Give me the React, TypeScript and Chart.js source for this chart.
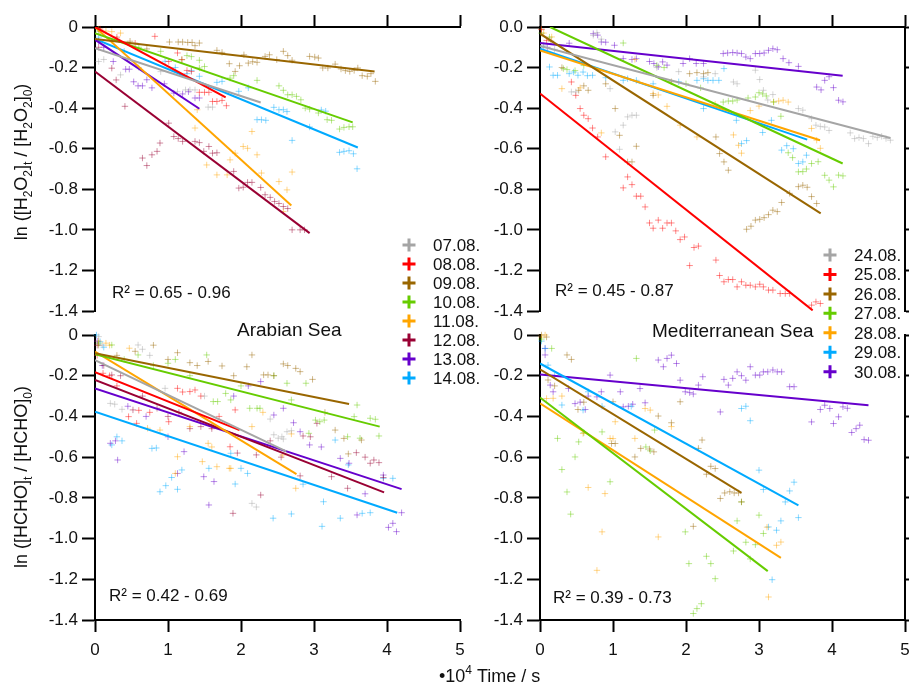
import React, { useEffect, useRef } from 'react';
import { Chart, registerables } from 'chart.js';

Chart.register(...registerables);

type Pt = [number, number];
type Fit = [number, number, number, number] | null;

const W = 909;
const H = 686;
const FONT = '"Liberation Sans", Arial, Helvetica, sans-serif';

// ---------- categories / tick labels ----------
const arabianDates = ['07.08.', '08.08.', '09.08.', '10.08.', '11.08.', '12.08.', '13.08.', '14.08.'];
const medDates = ['24.08.', '25.08.', '26.08.', '27.08.', '28.08.', '29.08.', '30.08.'];
const xTickValues = [0, 1, 2, 3, 4, 5];
const xTickLabels = ['0', '1', '2', '3', '4', '5'];
const yTickValues = [-1.4, -1.2, -1.0, -0.8, -0.6, -0.4, -0.2, 0];
const yLabelsA = ['-1.4', '-1.2', '-1.0', '-0.8', '-0.6', '-0.4', '-0.2', '0'];
const yLabelsB = ['-1.4', '-1.2', '-1.0', '-0.8', '-0.6', '-0.4', '-0.2', '0.0'];
const r2TopLeft = 'R² = 0.65 - 0.96';
const r2TopRight = 'R² = 0.45 - 0.87';
const r2BottomLeft = 'R² = 0.42 - 0.69';
const r2BottomRight = 'R² = 0.39 - 0.73';

// ---------- colours (styles) ----------
const arabianColors: [number, number, number][] = [
  [165, 165, 165], [255, 0, 0], [153, 102, 0], [102, 204, 0], [255, 165, 0], [153, 0, 51], [102, 0, 204], [0, 170, 255],
];
const medColors: [number, number, number][] = [
  [165, 165, 165], [255, 0, 0], [153, 102, 0], [102, 204, 0], [255, 165, 0], [0, 170, 255], [102, 0, 204],
];

// ---------- H2O2, Arabian Sea ----------
const h2o2_0708: Pt[] = [[0.05,-0.17],[0.12,-0.16],[0.35,-0.236],[0.6,-0.2],[0.9,-0.22],[1.13,-0.319],[1.24,-0.31],[1.3,-0.31],[1.37,-0.31],[1.55,-0.395],[1.61,-0.395]];
const h2o2_0808: Pt[] = [[0.07,-0.01],[0.3,-0.05],[0.55,-0.08],[0.82,-0.046],[1.01,-0.17],[1.13,-0.128],[1.19,-0.161],[1.26,-0.214],[1.32,-0.219],[1.43,-0.322],[1.5,-0.322],[1.56,-0.322],[1.61,-0.367],[1.67,-0.367],[1.74,-0.362],[1.8,-0.388]];
const h2o2_0908: Pt[] = [[0.07,-0.02],[0.48,-0.07],[0.71,-0.108],[1.02,-0.074],[1.14,-0.074],[1.2,-0.074],[1.27,-0.076],[1.33,-0.076],[1.43,-0.079],[1.37,-0.092],[1.67,-0.115],[1.74,-0.125],[1.84,-0.181],[1.92,-0.219],[1.98,-0.191],[2.04,-0.137],[2.1,-0.178],[2.16,-0.171],[2.22,-0.174],[2.33,-0.145],[2.39,-0.137],[2.49,-0.161],[2.58,-0.12],[2.64,-0.141],[2.7,-0.164],[2.94,-0.145],[3.01,-0.148],[3.06,-0.153],[3.12,-0.202],[3.19,-0.202],[3.29,-0.183],[3.37,-0.207],[3.43,-0.215],[3.49,-0.219],[3.55,-0.214],[3.6,-0.202],[3.66,-0.24],[3.73,-0.243],[3.78,-0.23],[3.84,-0.268]];
const h2o2_1008: Pt[] = [[0.05,-0.02],[0.3,-0.06],[0.6,-0.1],[0.9,-0.12],[1.19,-0.161],[1.26,-0.141],[1.32,-0.146],[1.43,-0.164],[1.43,-0.202],[1.5,-0.195],[1.85,-0.252],[1.9,-0.24],[2.22,-0.263],[2.52,-0.29],[2.58,-0.312],[2.64,-0.334],[2.7,-0.334],[2.76,-0.342],[2.82,-0.359],[2.88,-0.4],[2.94,-0.405],[3.06,-0.424],[3.18,-0.457],[3.24,-0.46],[3.35,-0.503],[3.41,-0.495],[3.48,-0.492],[3.53,-0.492]];
const h2o2_1108: Pt[] = [[0.05,-0.01],[0.15,-0.02],[0.23,-0.023],[0.35,-0.03],[1.37,-0.498],[1.4,-0.408],[1.53,-0.68],[1.67,-0.729],[1.81,-0.729],[1.85,-0.655],[1.92,-0.622],[2.03,-0.589],[2.09,-0.598],[2.15,-0.515],[2.22,-0.63],[2.28,-0.72],[2.52,-0.762],[2.58,-0.91],[2.63,-0.803],[2.7,-0.715]];
const h2o2_1208: Pt[] = [[0.05,-0.1],[0.23,-0.203],[0.29,-0.261],[0.41,-0.391],[0.65,-0.646],[0.71,-0.683],[0.78,-0.63],[0.85,-0.613],[0.89,-0.572],[1.01,-0.474],[1.08,-0.54],[1.14,-0.55],[1.2,-0.564],[1.37,-0.564],[1.43,-0.57],[1.49,-0.613],[1.56,-0.589],[1.61,-0.622],[1.67,-0.62],[1.9,-0.712],[1.97,-0.794],[2.03,-0.79],[2.09,-0.766],[2.15,-0.766],[2.27,-0.791],[2.33,-0.827],[2.4,-0.84],[2.46,-0.86],[2.52,-0.87],[2.58,-0.885],[2.64,-0.895],[2.7,-1.0],[2.81,-1.0],[2.87,-1.0]];
const h2o2_1308: Pt[] = [[0.05,-0.07],[0.12,-0.1],[0.25,-0.17],[0.42,-0.208],[0.47,-0.208],[0.53,-0.27],[0.59,-0.29],[0.65,-0.29],[0.71,-0.26],[0.78,-0.3],[0.95,-0.28],[1.08,-0.326],[1.2,-0.33],[1.28,-0.319],[1.37,-0.35],[1.43,-0.35]];
const h2o2_1408: Pt[] = [[0.05,-0.05],[0.4,-0.12],[0.96,-0.169],[1.1,-0.2],[1.26,-0.23],[1.32,-0.215],[1.43,-0.243],[1.67,-0.273],[1.74,-0.268],[1.97,-0.317],[2.1,-0.3],[2.22,-0.457],[2.28,-0.457],[2.34,-0.46],[2.45,-0.396],[2.52,-0.408],[2.58,-0.408],[2.63,-0.417],[2.7,-0.559],[2.94,-0.493],[3.1,-0.409],[3.16,-0.415],[3.35,-0.618],[3.41,-0.613],[3.48,-0.61],[3.54,-0.625],[3.59,-0.699]];
// fits: [x0, y0, x1, y1]
const fitH2o2Arabian: Fit[] = [
  [0, -0.104, 2.27, -0.372], [0, 0.0, 1.79, -0.347], [0, -0.059, 3.83, -0.219], [0, -0.03, 3.53, -0.47],
  [0, 0.0, 2.69, -0.88], [0, -0.219, 2.94, -1.016], [0, -0.0625, 1.43, -0.403], [0, -0.059, 3.6, -0.594],
];

// ---------- H2O2, Mediterranean Sea ----------
const h2o2_2408: Pt[] = [[0.05,-0.09],[0.2,-0.11],[0.43,-0.32],[0.49,-0.32],[0.73,-0.041],[0.78,-0.028],[0.84,-0.06],[0.96,-0.304],[1.03,-0.517],[1.09,-0.603],[1.14,-0.484],[1.2,-0.443],[1.26,-0.435],[1.32,-0.435],[1.6,-0.2],[1.9,-0.22],[2.24,-0.246],[2.4,-0.23],[2.65,-0.271],[2.7,-0.28],[2.95,-0.213],[3.01,-0.259],[3.06,-0.312],[3.12,-0.36],[3.19,-0.333],[3.54,-0.402],[3.6,-0.41],[3.72,-0.452],[3.78,-0.484],[3.84,-0.49],[3.9,-0.493],[3.96,-0.51],[4.25,-0.522],[4.31,-0.55],[4.37,-0.545],[4.43,-0.55],[4.5,-0.575],[4.56,-0.539],[4.62,-0.545],[4.68,-0.539],[4.74,-0.55],[4.8,-0.558]];
const h2o2_2508: Pt[] = [[0.02,-0.013],[0.09,-0.066],[0.43,-0.271],[0.49,-0.337],[0.55,-0.402],[0.6,-0.435],[0.66,-0.452],[0.72,-0.498],[0.79,-0.542],[0.9,-0.64],[1.14,-0.793],[1.2,-0.739],[1.26,-0.777],[1.32,-0.834],[1.38,-0.834],[1.44,-0.887],[1.5,-0.966],[1.55,-0.992],[1.62,-0.952],[1.68,-0.992],[1.74,-0.966],[1.8,-0.966],[1.86,-1.005],[1.92,-1.048],[1.98,-1.035],[2.05,-1.176],[2.11,-1.087],[2.17,-1.08],[2.41,-1.149],[2.46,-1.225],[2.52,-1.256],[2.58,-1.245],[2.64,-1.245],[2.7,-1.281],[2.76,-1.256],[2.82,-1.273],[2.88,-1.273],[2.95,-1.281],[3.01,-1.268],[3.06,-1.281],[3.13,-1.297],[3.19,-1.297],[3.29,-1.314],[3.36,-1.314],[3.42,-1.314],[3.72,-1.371],[3.78,-1.355],[3.84,-1.363]];
const h2o2_2608: Pt[] = [[0.02,-0.01],[0.15,-0.07],[0.3,-0.2],[0.53,-0.312],[0.6,-0.29],[0.66,-0.312],[0.9,-0.28],[1.03,-0.402],[1.09,-0.534],[1.2,-0.665],[1.26,-0.665],[1.32,-0.588],[1.55,-0.337],[1.8,-0.27],[2.05,-0.23],[2.15,-0.225],[2.24,-0.23],[2.3,-0.225],[2.41,-0.542],[2.46,-0.624],[2.52,-0.665],[2.58,-0.706],[2.83,-0.997],[2.89,-0.982],[2.95,-0.952],[3.01,-0.948],[3.07,-0.94],[3.13,-0.925],[3.19,-0.903],[3.25,-0.91],[3.31,-0.865],[3.42,-0.82],[3.54,-0.787],[3.6,-0.78],[3.66,-0.79],[3.72,-0.836],[3.79,-0.87]];
const h2o2_2708: Pt[] = [[0.02,-0.03],[0.13,-0.05],[0.32,-0.205],[0.37,-0.21],[0.48,-0.215],[0.6,-0.19],[1.14,-0.079],[1.6,-0.189],[1.7,-0.2],[2.0,-0.28],[2.2,-0.3],[2.51,-0.37],[2.58,-0.365],[2.64,-0.365],[2.7,-0.36],[2.85,-0.35],[2.95,-0.345],[3.0,-0.324],[3.05,-0.33],[3.1,-0.34],[3.2,-0.37],[3.3,-0.44],[3.4,-0.62],[3.46,-0.644],[3.54,-0.714],[3.6,-0.713],[3.65,-0.7],[3.72,-0.673],[3.81,-0.664],[3.9,-0.731],[3.96,-0.755],[4.02,-0.788],[4.09,-0.73],[4.15,-0.734]];
const h2o2_2808: Pt[] = [[0.05,-0.03],[0.16,-0.049],[0.3,-0.304],[0.55,-0.3],[0.84,-0.522],[1.3,-0.16],[1.55,-0.328],[1.62,-0.335],[1.74,-0.391],[1.92,-0.484],[2.15,-0.542],[2.4,-0.38],[2.65,-0.532],[2.72,-0.583],[2.76,-0.622],[2.88,-0.412],[3.0,-0.39],[3.2,-0.369],[3.27,-0.365],[3.33,-0.361],[3.4,-0.37],[3.72,-0.5],[3.79,-0.558],[3.84,-0.598]];
const h2o2_2908: Pt[] = [[0.05,-0.1],[0.13,-0.197],[0.18,-0.238],[0.24,-0.238],[0.4,-0.23],[0.46,-0.222],[0.52,-0.238],[0.59,-0.222],[0.65,-0.24],[0.72,-0.238],[0.9,-0.25],[1.14,-0.263],[1.2,-0.255],[1.32,-0.263],[1.55,-0.28],[1.9,-0.27],[2.15,-0.263],[2.24,-0.255],[2.24,-0.402],[2.3,-0.263],[2.37,-0.263],[2.45,-0.263],[2.52,-0.205],[2.69,-0.46],[2.76,-0.575],[2.83,-0.56],[3.05,-0.52],[3.17,-0.46],[3.31,-0.607],[3.38,-0.585],[3.47,-0.6],[3.54,-0.673],[3.6,-0.665],[3.65,-0.632]];
const h2o2_3008: Pt[] = [[0.1,-0.1],[0.4,-0.08],[0.73,-0.033],[0.79,-0.04],[0.84,-0.074],[0.9,-0.075],[1.02,-0.09],[1.14,-0.156],[1.26,-0.16],[1.32,-0.156],[1.5,-0.17],[1.56,-0.18],[1.62,-0.196],[1.68,-0.172],[1.74,-0.188],[1.96,-0.18],[2.05,-0.156],[2.14,-0.18],[2.24,-0.18],[2.51,-0.131],[2.57,-0.128],[2.64,-0.126],[2.7,-0.128],[2.76,-0.131],[2.82,-0.148],[2.88,-0.156],[2.95,-0.131],[3.01,-0.131],[3.07,-0.128],[3.13,-0.115],[3.19,-0.107],[3.25,-0.112],[3.33,-0.156],[3.41,-0.176],[3.54,-0.194],[3.79,-0.296],[3.85,-0.31],[3.9,-0.263],[3.96,-0.245],[4.02,-0.299],[4.09,-0.361],[4.15,-0.369]];
const fitH2o2Med: Fit[] = [
  [0, -0.094, 4.8, -0.547], [0, -0.328, 3.735, -1.397], [0, -0.033, 3.845, -0.919], [0.137, 0.0, 4.146, -0.673],
  [0, -0.115, 3.836, -0.558], [0, -0.107, 3.66, -0.555], [0, -0.079, 4.146, -0.24],
];

// ---------- HCHO, Arabian Sea ----------
const hcho_0708: Pt[] = [[0.05,-0.008],[0.1,-0.05],[0.21,-0.336],[0.27,-0.34],[0.37,-0.365],[0.59,-0.049],[0.65,-0.07],[0.75,-0.1],[0.96,-0.262],[1.5,-0.3],[2.15,-0.827],[2.21,-0.845],[2.4,-0.413],[2.45,-0.49],[2.51,-0.507],[2.56,-0.5],[2.58,-0.511],[2.63,-0.475],[2.69,-0.47]];
const hcho_0808: Pt[] = [[0.03,-0.1],[0.11,-0.188],[0.2,-0.2],[0.3,-0.25],[0.46,-0.401],[0.57,-0.434],[0.6,-0.37],[0.75,-0.38],[1.01,-0.426],[1.13,-0.262],[1.2,-0.28],[1.3,-0.278],[1.37,-0.27],[1.45,-0.3],[1.6,-0.45],[1.7,-0.4],[1.85,-0.549],[1.92,-0.368]];
const hcho_0908: Pt[] = [[0.05,-0.05],[0.3,-0.1],[0.55,-0.08],[0.8,-0.05],[1.0,-0.12],[1.13,-0.087],[1.3,-0.136],[1.4,-0.15],[1.55,-0.13],[1.74,-0.152],[1.9,-0.2],[2.08,-0.156],[2.15,-0.098],[2.31,-0.196],[2.37,-0.196],[2.45,-0.2],[2.58,-0.142],[2.64,-0.15],[2.75,-0.164],[2.81,-0.18],[2.98,-0.218],[3.15,-0.38],[3.29,-0.467],[3.41,-0.508],[3.47,-0.584],[3.65,-0.516]];
const hcho_1008: Pt[] = [[0.05,-0.04],[0.23,-0.049],[0.4,-0.12],[0.59,-0.098],[0.8,-0.15],[1.0,-0.139],[1.1,-0.12],[1.3,-0.2],[1.53,-0.098],[1.62,-0.327],[1.68,-0.327],[1.79,-0.287],[1.86,-0.319],[2.0,-0.25],[2.12,-0.36],[2.22,-0.36],[2.26,-0.36],[2.45,-0.2],[2.63,-0.237],[2.69,-0.319],[2.89,-0.237],[2.93,-0.483],[3.02,-0.418],[3.08,-0.426],[3.14,-0.418],[3.46,-0.5],[3.55,-0.401],[3.59,-0.344],[3.63,-0.507],[3.77,-0.409],[3.84,-0.414],[3.89,-0.496]];
const hcho_1108: Pt[] = [[0.05,-0.03],[0.15,-0.04],[0.2,-0.05],[0.47,-0.065],[0.72,-0.458],[0.89,-0.467],[1.1,-0.68],[1.13,-0.598],[1.3,-0.45],[1.47,-0.622],[1.55,-0.532],[1.6,-0.55],[1.67,-0.647],[1.84,-0.655],[1.86,-0.655],[2.15,-0.45],[2.3,-0.38],[2.57,-0.59],[2.69,-0.486],[2.75,-0.753]];
const hcho_1208: Pt[] = [[0.03,-0.05],[0.12,-0.15],[0.23,-0.196],[0.35,-0.2],[0.52,-0.368],[0.65,-0.3],[0.85,-0.36],[1.0,-0.4],[1.15,-0.38],[1.3,-0.46],[1.45,-0.45],[1.6,-0.46],[1.89,-0.876],[1.95,-0.58],[2.21,-0.589],[2.27,-0.786],[2.4,-0.52],[2.55,-0.6],[2.81,-0.692],[2.85,-0.496],[2.95,-0.5],[3.04,-0.434],[3.24,-0.696],[3.46,-0.753],[3.58,-0.578],[3.7,-0.6],[3.77,-0.63],[3.82,-0.614],[3.89,-0.627],[3.95,-0.7]];
const hcho_1308: Pt[] = [[0.03,-0.03],[0.1,-0.15],[0.21,-0.532],[0.28,-0.52],[0.31,-0.614],[0.45,-0.35],[0.7,-0.4],[1.0,-0.5],[1.13,-0.68],[1.22,-0.573],[1.49,-0.696],[1.56,-0.835],[1.63,-0.72],[1.9,-0.3],[2.1,-0.25],[2.27,-0.229],[2.45,-0.393],[2.58,-0.36],[2.72,-0.431],[2.81,-0.475],[2.94,-0.54],[3.1,-0.55],[3.36,-0.606],[3.48,-0.63],[3.59,-0.884],[3.7,-0.78],[3.95,-0.688],[4.02,-0.945],[4.08,-0.925],[4.13,-0.966],[4.2,-0.873]];
const hcho_1408: Pt[] = [[0.02,0.0],[0.07,-0.033],[0.12,-0.06],[0.23,-0.54],[0.3,-0.5],[0.37,-0.52],[0.78,-0.557],[0.84,-0.555],[0.89,-0.77],[0.97,-0.74],[1.05,-0.7],[1.13,-0.758],[1.19,-0.663],[1.56,-0.655],[1.86,-0.581],[1.92,-0.732],[2.0,-0.655],[2.09,-0.68],[2.44,-0.9],[2.69,-0.879],[2.85,-0.733],[3.11,-0.94],[3.13,-0.819],[3.29,-0.516],[3.36,-0.9],[3.47,-0.638],[3.66,-0.876],[3.77,-0.873],[3.95,-0.704],[4.08,-0.704]];
const fitHchoArabian: Fit[] = [
  [0, -0.123, 2.62, -0.572], [0, -0.183, 1.98, -0.467], [0, -0.09, 3.48, -0.339], [0, -0.095, 3.9, -0.45],
  [0, -0.082, 2.76, -0.683], [0, -0.221, 3.96, -0.773], [0, -0.262, 4.2, -0.757], [0, -0.377, 4.14, -0.873],
];

// ---------- HCHO, Mediterranean Sea ----------
const hcho_2408: Pt[] = [];
const hcho_2508: Pt[] = [];
const hcho_2608: Pt[] = [[0.02,0.0],[0.09,-0.01],[0.11,-0.221],[0.2,-0.25],[0.37,-0.098],[0.43,-0.12],[0.52,-0.366],[0.6,-0.33],[0.98,-0.533],[1.03,-0.533],[1.0,-0.328],[1.3,-0.599],[1.38,-0.557],[1.5,-0.56],[1.56,-0.574],[1.62,-0.398],[1.8,-0.431],[1.92,-0.328],[2.1,-0.94],[2.17,-0.557],[2.22,-0.516],[2.28,-0.684],[2.34,-0.645],[2.4,-0.656],[2.47,-0.803],[2.53,-0.776],[2.6,-0.77],[2.66,-0.776],[2.72,-0.776],[2.76,-0.82]];
const hcho_2708: Pt[] = [[0.02,-0.02],[0.16,-0.066],[0.24,-0.508],[0.3,-0.661],[0.37,-0.771],[0.42,-0.88],[0.48,-0.599],[0.53,-0.525],[0.6,-0.48],[0.85,-0.476],[0.96,-0.721],[1.32,-0.115],[1.45,-0.55],[1.51,-0.569],[1.57,-0.467],[1.99,-0.967],[2.04,-1.123],[2.1,-1.368],[2.15,-1.344],[2.21,-1.32],[2.28,-1.087],[2.34,-1.123],[2.4,-1.197],[2.65,-1.061],[2.7,-0.913],[2.76,-0.82],[2.82,-1.018],[2.88,-1.1],[2.95,-1.03],[3.0,-0.885],[3.06,-0.975]];
const hcho_2808: Pt[] = [[0.02,-0.01],[0.07,0.0],[0.09,-0.312],[0.18,-0.311],[0.3,-0.3],[0.59,-0.484],[0.66,-0.749],[0.78,-1.156],[0.85,-0.967],[0.89,-0.779],[0.96,-0.508],[1.0,-0.509],[1.03,-0.426],[1.3,-0.508],[1.44,-0.361],[1.51,-0.369],[1.62,-0.992],[1.8,-0.45],[3.11,-0.944],[3.13,-1.287],[3.24,-1.033],[3.3,-1.017]];
const hcho_2908: Pt[] = [[0.02,-0.03],[0.07,-0.066],[0.11,-0.148],[0.2,-0.2],[0.3,-0.344],[0.59,-0.369],[0.66,-0.279],[0.85,-0.35],[1.25,-0.35],[2.76,-0.361],[2.82,-0.35],[2.88,-0.421],[3.0,-0.664],[3.06,-0.759],[3.13,-0.943],[3.18,-1.202],[3.24,-0.959],[3.3,-0.913],[3.36,-0.82],[3.42,-0.766],[3.48,-0.723],[3.54,-0.897]];
const hcho_3008: Pt[] = [[0.07,-0.066],[0.07,-0.098],[0.14,-0.246],[0.18,-0.279],[0.39,-0.263],[0.48,-0.337],[0.55,-0.33],[0.62,-0.366],[0.66,-0.3],[0.78,-0.304],[0.84,-0.279],[0.96,-0.197],[1.1,-0.279],[1.14,-0.353],[1.21,-0.35],[1.27,-0.34],[1.37,-0.263],[1.44,-0.333],[1.62,-0.123],[1.69,-0.156],[1.74,-0.115],[1.8,-0.099],[1.87,-0.14],[1.92,-0.222],[1.99,-0.279],[2.05,-0.283],[2.1,-0.29],[2.17,-0.246],[2.23,-0.205],[2.47,-0.378],[2.52,-0.218],[2.58,-0.246],[2.64,-0.213],[2.7,-0.181],[2.76,-0.2],[2.82,-0.222],[2.88,-0.156],[2.95,-0.197],[3.01,-0.197],[3.06,-0.181],[3.12,-0.181],[3.19,-0.172],[3.25,-0.181],[3.31,-0.181],[3.42,-0.254],[3.48,-0.254],[3.72,-0.427],[3.84,-0.366],[3.9,-0.345],[3.97,-0.361],[4.02,-0.435],[4.09,-0.402],[4.15,-0.353],[4.21,-0.36],[4.27,-0.479],[4.33,-0.46],[4.38,-0.443],[4.44,-0.514],[4.5,-0.517]];
const fitHchoMed: Fit[] = [
  null, null, [0, -0.169, 2.76, -0.776], [0, -0.307, 3.12, -1.16],
  [0, -0.336, 3.3, -1.095], [0, -0.14, 3.54, -0.837], [0, -0.194, 4.5, -0.345],
];

const ptsH2o2Arabian = [h2o2_0708, h2o2_0808, h2o2_0908, h2o2_1008, h2o2_1108, h2o2_1208, h2o2_1308, h2o2_1408];
const ptsH2o2Med = [h2o2_2408, h2o2_2508, h2o2_2608, h2o2_2708, h2o2_2808, h2o2_2908, h2o2_3008];
const ptsHchoArabian = [hcho_0708, hcho_0808, hcho_0908, hcho_1008, hcho_1108, hcho_1208, hcho_1308, hcho_1408];
const ptsHchoMed = [hcho_2408, hcho_2508, hcho_2608, hcho_2708, hcho_2808, hcho_2908, hcho_3008];

// ---------- helpers ----------
const rgb = (c: number[], a = 1) => `rgba(${c[0]},${c[1]},${c[2]},${a})`;

type Seg = [string, number]; // 0 normal, 1 subscript, 2 superscript

function drawRich(ctx: CanvasRenderingContext2D, segs: Seg[], x: number, y: number, size: number, rotate: boolean, center: boolean) {
  const small = Math.round(size * 0.66);
  ctx.save();
  ctx.translate(x, y);
  if (rotate) ctx.rotate(-Math.PI / 2);
  ctx.fillStyle = '#111';
  ctx.textBaseline = 'alphabetic';
  ctx.textAlign = 'left';
  let total = 0;
  for (const [t, k] of segs) {
    ctx.font = `${k ? small : size}px ${FONT}`;
    total += ctx.measureText(t).width;
  }
  let cx = center ? -total / 2 : 0;
  for (const [t, k] of segs) {
    ctx.font = `${k ? small : size}px ${FONT}`;
    const dy = k === 1 ? size * 0.25 : k === 2 ? -size * 0.45 : 0;
    ctx.fillText(t, cx, dy);
    cx += ctx.measureText(t).width;
  }
  ctx.restore();
}

function drawText(ctx: CanvasRenderingContext2D, t: string, x: number, y: number, size: number) {
  ctx.save();
  ctx.font = `${size}px ${FONT}`;
  ctx.fillStyle = '#111';
  ctx.textBaseline = 'alphabetic';
  ctx.textAlign = 'left';
  ctx.fillText(t, x, y);
  ctx.restore();
}

function drawLegend(ctx: CanvasRenderingContext2D, labels: string[], colors: number[][], mx: number, tx: number, y0: number, dy: number) {
  ctx.save();
  labels.forEach((lab, i) => {
    const y = y0 + i * dy;
    ctx.strokeStyle = rgb(colors[i]);
    ctx.lineWidth = 3;
    ctx.beginPath();
    ctx.moveTo(mx - 6.5, y);
    ctx.lineTo(mx + 6.5, y);
    ctx.moveTo(mx, y - 6.5);
    ctx.lineTo(mx, y + 6.5);
    ctx.stroke();
    drawText(ctx, lab, tx, y + 6, 17);
  });
  ctx.restore();
}

const titleH2o2: Seg[] = [['ln ([H', 0], ['2', 1], ['O', 0], ['2', 1], [']', 0], ['t', 1], [' / [H', 0], ['2', 1], ['O', 0], ['2', 1], [']', 0], ['0', 1], [')', 0]];
const titleHcho: Seg[] = [['ln ([HCHO]', 0], ['t', 1], [' / [HCHO]', 0], ['0', 1], [')', 0]];
const titleX: Seg[] = [['\u202210', 0], ['4', 2], [' Time / s', 0]];

interface PanelDef {
  area: { left: number; top: number; right: number; bottom: number };
  xPos: 'top' | 'bottom';
  rightAxis: boolean;
  yLabels: string[];
  labels: string[];
  colors: number[][];
  pts: Pt[][];
  fits: Fit[];
  extras: (ctx: CanvasRenderingContext2D) => void;
}

const PANELS: PanelDef[] = [
  {
    area: { left: 95, top: 27, right: 460, bottom: 311 }, xPos: 'top', rightAxis: false, yLabels: yLabelsA,
    labels: arabianDates, colors: arabianColors, pts: ptsH2o2Arabian, fits: fitH2o2Arabian,
    extras: (ctx) => {
      drawRich(ctx, titleH2o2, 27, 162, 18, true, true);
      drawText(ctx, r2TopLeft, 112, 298, 17);
      drawLegend(ctx, arabianDates, arabianColors, 409, 433, 245, 19.0);
    },
  },
  {
    area: { left: 540, top: 27, right: 905, bottom: 311 }, xPos: 'top', rightAxis: true, yLabels: yLabelsB,
    labels: medDates, colors: medColors, pts: ptsH2o2Med, fits: fitH2o2Med,
    extras: (ctx) => {
      drawText(ctx, r2TopRight, 555, 296, 17);
      drawLegend(ctx, medDates, medColors, 830, 854, 255, 19.45);
    },
  },
  {
    area: { left: 95, top: 335, right: 460, bottom: 620 }, xPos: 'bottom', rightAxis: false, yLabels: yLabelsA,
    labels: arabianDates, colors: arabianColors, pts: ptsHchoArabian, fits: fitHchoArabian,
    extras: (ctx) => {
      drawRich(ctx, titleHcho, 27, 477, 18, true, true);
      drawText(ctx, r2BottomLeft, 109, 601, 17);
      drawText(ctx, 'Arabian Sea', 237, 336, 19);
    },
  },
  {
    area: { left: 540, top: 335, right: 905, bottom: 620 }, xPos: 'bottom', rightAxis: true, yLabels: yLabelsA,
    labels: medDates, colors: medColors, pts: ptsHchoMed, fits: fitHchoMed,
    extras: (ctx) => {
      drawText(ctx, r2BottomRight, 553, 603, 17);
      drawText(ctx, 'Mediterranean Sea', 652, 337, 19);
      drawRich(ctx, titleX, 439, 682, 18, false, false);
    },
  },
];

function makeChart(canvas: HTMLCanvasElement, p: PanelDef) {
  const yW = 80, topH = 12, botH = 40, rW = 4;
  const padding = {
    left: p.area.left - yW,
    right: W - p.area.right - (p.rightAxis ? rW : 0),
    top: p.area.top - (p.xPos === 'top' ? topH : 0),
    bottom: H - p.area.bottom - (p.xPos === 'bottom' ? botH : 0),
  };
  const datasets: any[] = [];
  p.fits.forEach((f, i) => {
    if (!f) return;
    datasets.push({
      label: '',
      data: [{ x: f[0], y: f[1] }, { x: f[2], y: f[3] }],
      showLine: true,
      borderColor: rgb(p.colors[i]),
      backgroundColor: rgb(p.colors[i]),
      borderWidth: 2,
      pointRadius: 0,
      order: 0,
    });
  });
  p.pts.forEach((pts, i) => {
    datasets.push({
      label: p.labels[i],
      data: pts.map(([x, y]) => ({ x, y })),
      showLine: false,
      pointStyle: 'cross',
      pointRadius: 3.2,
      borderWidth: 1,
      borderColor: rgb(p.colors[i], 0.45),
      backgroundColor: rgb(p.colors[i], 0.45),
      order: 1,
      clip: false,
    });
  });
  const fmtY = (v: number) => {
    const k = yTickValues.findIndex((t) => Math.abs(t - v) < 1e-6);
    return k >= 0 ? p.yLabels[k] : '';
  };
  const fmtX = (v: number) => {
    const k = xTickValues.findIndex((t) => Math.abs(t - v) < 1e-6);
    return k >= 0 ? xTickLabels[k] : '';
  };
  const border = { display: true, color: '#000', width: 2 };
  const scales: any = {
    x: {
      type: 'linear', min: 0, max: 5, position: p.xPos,
      ticks: {
        stepSize: 1, display: p.xPos === 'bottom', color: '#111', padding: 8, maxRotation: 0, autoSkip: false,
        font: { family: FONT, size: 17 }, callback: (v: number) => fmtX(v),
      },
      grid: { display: true, drawOnChartArea: false, drawTicks: true, tickLength: 12, tickWidth: 2, tickColor: '#000' },
      border,
      afterFit: (s: any) => { s.height = p.xPos === 'top' ? topH : botH; s.paddingLeft = 0; s.paddingRight = 0; },
    },
    y: {
      type: 'linear', min: -1.4, max: 0, position: 'left',
      ticks: {
        stepSize: 0.2, color: '#111', padding: 4, autoSkip: false,
        font: { family: FONT, size: 17 }, callback: (v: number) => fmtY(v),
      },
      grid: { display: true, drawOnChartArea: false, drawTicks: true, tickLength: 13, tickWidth: 2, tickColor: '#000' },
      border,
      afterFit: (s: any) => { s.width = yW; s.paddingTop = 0; s.paddingBottom = 0; },
    },
  };
  if (p.rightAxis) {
    scales.y2 = {
      type: 'linear', min: -1.4, max: 0, position: 'right',
      ticks: { stepSize: 0.2, display: false },
      grid: { display: true, drawOnChartArea: false, drawTicks: true, tickLength: 4, tickWidth: 2, tickColor: '#000' },
      border,
      afterFit: (s: any) => { s.width = rW; s.paddingTop = 0; s.paddingBottom = 0; },
    };
  }
  return new Chart(canvas, {
    type: 'scatter',
    data: { datasets },
    options: {
      animation: false,
      responsive: false,
      devicePixelRatio: 1,
      events: [],
      layout: { padding, autoPadding: false } as any,
      plugins: { legend: { display: false }, tooltip: { enabled: false } },
      scales,
    },
    plugins: [{ id: 'extras', afterDraw: (chart: any) => p.extras(chart.ctx) }],
  } as any);
}

export default function App() {
  const r0 = useRef<HTMLCanvasElement>(null);
  const r1 = useRef<HTMLCanvasElement>(null);
  const r2 = useRef<HTMLCanvasElement>(null);
  const r3 = useRef<HTMLCanvasElement>(null);
  const refs = [r0, r1, r2, r3];
  useEffect(() => {
    const charts = PANELS.map((p, i) => makeChart(refs[i].current as HTMLCanvasElement, p));
    return () => charts.forEach((c) => c.destroy());
  }, []);
  return (
    <div style={{ position: 'absolute', left: 0, top: 0, width: W, height: H, background: '#fff' }}>
      {refs.map((r, i) => (
        <canvas key={i} ref={r} width={W} height={H}
          style={{ position: 'absolute', left: 0, top: 0, width: W, height: H }} />
      ))}
    </div>
  );
}
